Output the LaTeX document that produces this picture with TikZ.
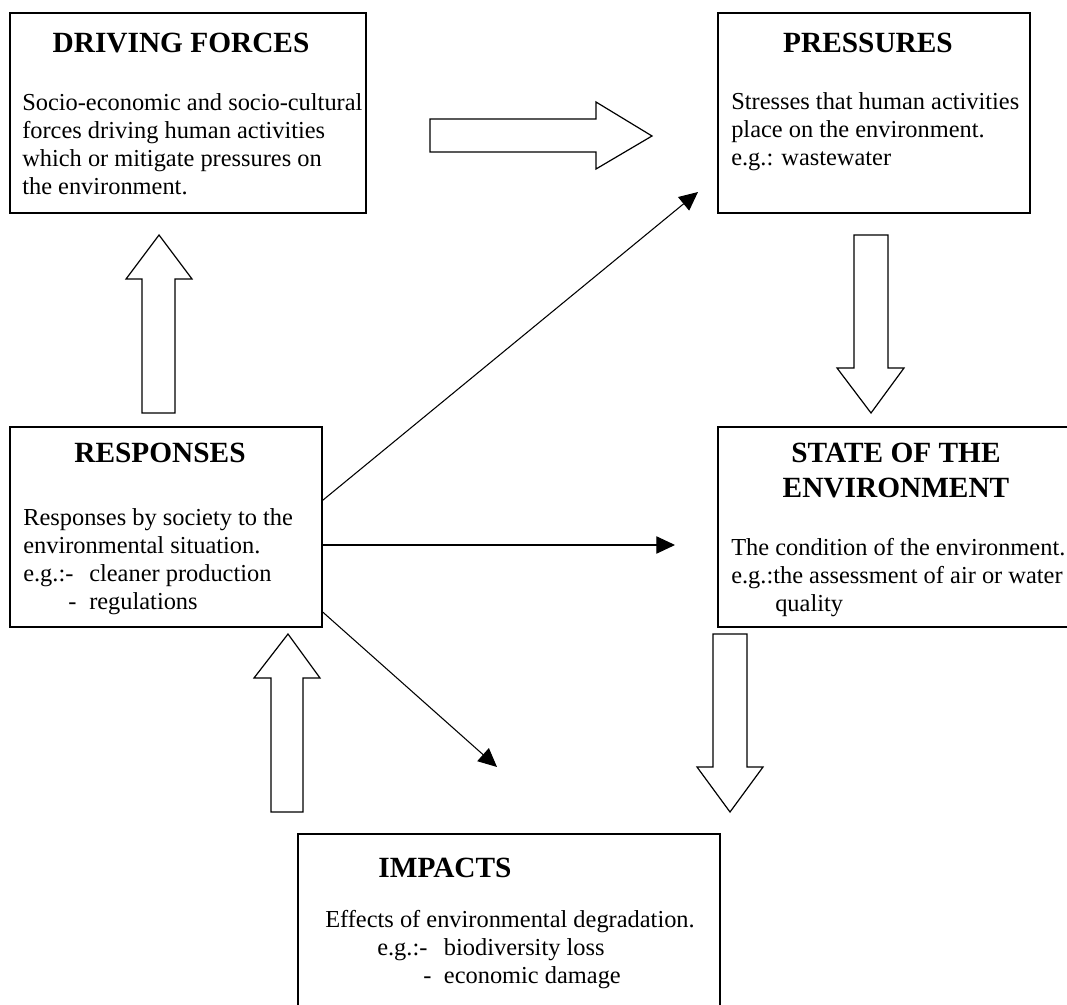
\documentclass[tikz,border=0pt]{standalone}
\usepackage{fontspec}
\setmainfont{Liberation Serif}
\usetikzlibrary{arrows.meta,fit}
\tikzset{
  box/.style={draw, line width=1pt, inner sep=0pt},
  head/.style={font=\fontsize{22}{26.25}\selectfont\bfseries, inner sep=0pt, anchor=base, align=center},
  body/.style={font=\fontsize{18.3}{21}\selectfont, inner sep=0pt, anchor=base west, align=left},
  blockarrow/.style={draw, line width=0.9pt, fill=white, line join=miter},
  thin/.style={line width=0.8pt, -{Triangle[length=14pt,width=13pt]}}
}
\begin{document}
\begin{tikzpicture}[x=0.75pt, y=-0.75pt]
\clip (0,0) rectangle (1067,1005);
% the five boxes
\node[box, fit={(10,13) (366,213)}] (drive) {};
\node[box, fit={(718,13) (1030,213)}] (press) {};
\node[box, fit={(10,427) (322,627)}] (resp) {};
\node[box, fit={(718,427) (1090,627)}] (state) {};
\node[box, fit={(298,834) (720,1030)}] (impact) {};
% titles (base = last line)
\node[head] (driveT) at (181,53) {DRIVING FORCES};
\node[head] (pressT) at (868,53) {PRESSURES};
\node[head] (respT) at (160,462) {RESPONSES};
\node[head] (stateT) at (896,497) {STATE OF THE\\ENVIRONMENT};
\node[head] (impactT) at (445,877) {IMPACTS};
% texts
\node[body] (driveB) at (22,195) {Socio-economic and socio-cultural\\forces driving human activities\\which or mitigate pressures on\\the environment.};
\node[body] (pressB) at (731,166) {Stresses that human activities\\place on the environment.\\e.g.: wastewater};
\node[body] (respB) at (23,609) {Responses by society to the\\environmental situation.\\\makebox[49.5pt][l]{e.g.:-}cleaner production\\\hspace*{33.75pt}\makebox[15.75pt][l]{-}regulations};
\node[body] (stateB) at (731,611) {The condition of the environment.\\e.g.:the assessment of air or water\\\hspace*{33pt}quality};
\node[body] (impactB) at (325,983) {Effects of environmental degradation.\\\hspace*{39pt}\makebox[50pt][l]{e.g.:-}biodiversity loss\\\hspace*{73.5pt}\makebox[15.5pt][l]{-}economic damage};
% block arrows
\draw[blockarrow] (430,119) -- (596,119) -- (596,102) -- (652,136) -- (596,169) -- (596,152) -- (430,152) -- cycle;
\draw[blockarrow] (854,235) -- (888,235) -- (888,368) -- (904,368) -- (871,413) -- (837,368) -- (854,368) -- cycle;
\draw[blockarrow] (713,634) -- (747,634) -- (747,767) -- (763,767) -- (730,812) -- (697,767) -- (713,767) -- cycle;
\draw[blockarrow] (142,413) -- (175,413) -- (175,279) -- (192,279) -- (159,235) -- (126,279) -- (142,279) -- cycle;
\draw[blockarrow] (271,812) -- (303,812) -- (303,678) -- (320,678) -- (288,634) -- (254,678) -- (271,678) -- cycle;
% thin arrows
\coordinate (toP) at (698,192);
\coordinate (toS) at (675,545);
\coordinate (toI) at (497,767);
\draw[thin] ([yshift=20pt]resp.east) -- (toP);
\draw[thin] ([yshift=-13.5pt]resp.east) -- (toS);
\draw[thin] ([yshift=-63.75pt]resp.east) -- (toI);
\end{tikzpicture}
\end{document}
